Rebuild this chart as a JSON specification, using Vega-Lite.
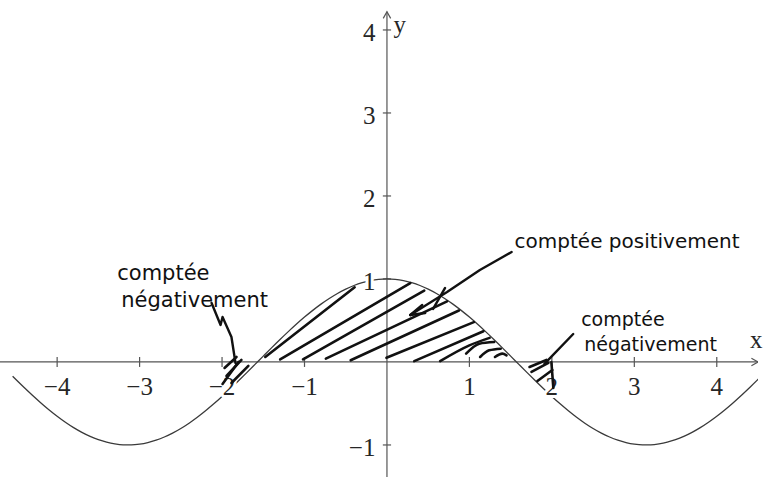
{
  "$schema": "https://vega.github.io/schema/vega-lite/v6.json",
  "width": 763,
  "height": 477,
  "autosize": {"type": "fit", "contains": "padding"},
  "padding": 0,
  "background": "white",
  "config": {"view": {"stroke": null}},
  "datasets": {
    "curve": [
      {"x": -4.54, "y": -0.1716}, {"x": -4.5, "y": -0.2108}, {"x": -4.4, "y": -0.3073}, {"x": -4.3, "y": -0.4008},
      {"x": -4.2, "y": -0.4903}, {"x": -4.1, "y": -0.5748}, {"x": -4.0, "y": -0.6536}, {"x": -3.9, "y": -0.7259},
      {"x": -3.8, "y": -0.791}, {"x": -3.7, "y": -0.8481}, {"x": -3.6, "y": -0.8968}, {"x": -3.5, "y": -0.9365},
      {"x": -3.4, "y": -0.9668}, {"x": -3.3, "y": -0.9875}, {"x": -3.2, "y": -0.9983}, {"x": -3.1, "y": -0.9991},
      {"x": -3.0, "y": -0.99}, {"x": -2.9, "y": -0.971}, {"x": -2.8, "y": -0.9422}, {"x": -2.7, "y": -0.9041},
      {"x": -2.6, "y": -0.8569}, {"x": -2.5, "y": -0.8011}, {"x": -2.4, "y": -0.7374}, {"x": -2.3, "y": -0.6663},
      {"x": -2.2, "y": -0.5885}, {"x": -2.1, "y": -0.5048}, {"x": -2.0, "y": -0.4161}, {"x": -1.9, "y": -0.3233},
      {"x": -1.8, "y": -0.2272}, {"x": -1.7, "y": -0.1288}, {"x": -1.6, "y": -0.0292}, {"x": -1.5, "y": 0.0707},
      {"x": -1.4, "y": 0.17}, {"x": -1.3, "y": 0.2675}, {"x": -1.2, "y": 0.3624}, {"x": -1.1, "y": 0.4536},
      {"x": -1.0, "y": 0.5403}, {"x": -0.9, "y": 0.6216}, {"x": -0.8, "y": 0.6967}, {"x": -0.7, "y": 0.7648},
      {"x": -0.6, "y": 0.8253}, {"x": -0.5, "y": 0.8776}, {"x": -0.4, "y": 0.9211}, {"x": -0.3, "y": 0.9553},
      {"x": -0.2, "y": 0.9801}, {"x": -0.1, "y": 0.995}, {"x": 0.0, "y": 1.0}, {"x": 0.1, "y": 0.995},
      {"x": 0.2, "y": 0.9801}, {"x": 0.3, "y": 0.9553}, {"x": 0.4, "y": 0.9211}, {"x": 0.5, "y": 0.8776},
      {"x": 0.6, "y": 0.8253}, {"x": 0.7, "y": 0.7648}, {"x": 0.8, "y": 0.6967}, {"x": 0.9, "y": 0.6216},
      {"x": 1.0, "y": 0.5403}, {"x": 1.1, "y": 0.4536}, {"x": 1.2, "y": 0.3624}, {"x": 1.3, "y": 0.2675},
      {"x": 1.4, "y": 0.17}, {"x": 1.5, "y": 0.0707}, {"x": 1.6, "y": -0.0292}, {"x": 1.7, "y": -0.1288},
      {"x": 1.8, "y": -0.2272}, {"x": 1.9, "y": -0.3233}, {"x": 2.0, "y": -0.4161}, {"x": 2.1, "y": -0.5048},
      {"x": 2.2, "y": -0.5885}, {"x": 2.3, "y": -0.6663}, {"x": 2.4, "y": -0.7374}, {"x": 2.5, "y": -0.8011},
      {"x": 2.6, "y": -0.8569}, {"x": 2.7, "y": -0.9041}, {"x": 2.8, "y": -0.9422}, {"x": 2.9, "y": -0.971},
      {"x": 3.0, "y": -0.99}, {"x": 3.1, "y": -0.9991}, {"x": 3.2, "y": -0.9983}, {"x": 3.3, "y": -0.9875},
      {"x": 3.4, "y": -0.9668}, {"x": 3.5, "y": -0.9365}, {"x": 3.6, "y": -0.8968}, {"x": 3.7, "y": -0.8481},
      {"x": 3.8, "y": -0.791}, {"x": 3.9, "y": -0.7259}, {"x": 4.0, "y": -0.6536}, {"x": 4.1, "y": -0.5748},
      {"x": 4.2, "y": -0.4903}, {"x": 4.3, "y": -0.4008}, {"x": 4.4, "y": -0.3073}, {"x": 4.5, "y": -0.2108},
      {"x": 4.6, "y": -0.1122}
    ],
    "axes": [
      {"id": "xaxis", "o": 0, "x": -4.693, "y": 0}, {"id": "xaxis", "o": 1, "x": 4.5, "y": 0},
      {"id": "yaxis", "o": 0, "x": 0, "y": -1.386}, {"id": "yaxis", "o": 1, "x": 0, "y": 4.22},
      {"id": "xhead", "o": 0, "x": 4.42, "y": 0.045}, {"id": "xhead", "o": 1, "x": 4.5, "y": 0}, {"id": "xhead", "o": 2, "x": 4.42, "y": -0.045},
      {"id": "yhead", "o": 0, "x": -0.045, "y": 4.14}, {"id": "yhead", "o": 1, "x": 0, "y": 4.22}, {"id": "yhead", "o": 2, "x": 0.045, "y": 4.14}
    ],
    "ticks": [
      {"x": -4, "y": -0.06, "x2": -4, "y2": 0.06}, {"x": -3, "y": -0.06, "x2": -3, "y2": 0.06},
      {"x": -2, "y": -0.06, "x2": -2, "y2": 0.06}, {"x": -1, "y": -0.06, "x2": -1, "y2": 0.06},
      {"x": 1, "y": -0.06, "x2": 1, "y2": 0.06}, {"x": 2, "y": -0.06, "x2": 2, "y2": 0.06},
      {"x": 3, "y": -0.06, "x2": 3, "y2": 0.06}, {"x": 4, "y": -0.06, "x2": 4, "y2": 0.06},
      {"x": -0.05, "y": -1, "x2": 0.05, "y2": -1}, {"x": -0.05, "y": 1, "x2": 0.05, "y2": 1},
      {"x": -0.05, "y": 2, "x2": 0.05, "y2": 2}, {"x": -0.05, "y": 3, "x2": 0.05, "y2": 3},
      {"x": -0.05, "y": 4, "x2": 0.05, "y2": 4}
    ],
    "xlabels": [
      {"x": -4, "y": -0.398, "t": "−4"}, {"x": -3, "y": -0.398, "t": "−3"},
      {"x": -2, "y": -0.398, "t": "−2"}, {"x": -1, "y": -0.398, "t": "−1"},
      {"x": 1, "y": -0.398, "t": "1"}, {"x": 2, "y": -0.398, "t": "2"},
      {"x": 3, "y": -0.398, "t": "3"}, {"x": 4, "y": -0.398, "t": "4"}
    ],
    "ylabels": [
      {"x": -0.14, "y": -1, "t": "−1"}, {"x": -0.14, "y": 1, "t": "1"},
      {"x": -0.14, "y": 2, "t": "2"}, {"x": -0.14, "y": 3, "t": "3"},
      {"x": -0.14, "y": 4, "t": "4"}
    ],
    "names": [
      {"x": 0.078, "y": 3.964, "t": "y"},
      {"x": 4.404, "y": 0.169, "t": "x"}
    ],
    "hatch": [
      {"id": "h1", "o": 0, "x": -1.476, "y": 0.06}, {"id": "h1", "o": 1, "x": -0.392, "y": 0.9},
      {"id": "h2", "o": 0, "x": -1.295, "y": 0.03}, {"id": "h2", "o": 1, "x": 0.283, "y": 0.95},
      {"id": "h3", "o": 0, "x": -1.018, "y": 0.03}, {"id": "h3", "o": 1, "x": 0.452, "y": 0.86},
      {"id": "h4", "o": 0, "x": -0.741, "y": 0.04}, {"id": "h4", "o": 1, "x": 0.729, "y": 0.73},
      {"id": "h5", "o": 0, "x": -0.44, "y": 0.02}, {"id": "h5", "o": 1, "x": 0.873, "y": 0.62},
      {"id": "h6", "o": 0, "x": -0.006, "y": 0.05}, {"id": "h6", "o": 1, "x": 1.054, "y": 0.48},
      {"id": "h7", "o": 0, "x": 0.331, "y": 0.01}, {"id": "h7", "o": 1, "x": 1.17, "y": 0.37},
      {"id": "h8", "o": 0, "x": 0.645, "y": 0.01}, {"id": "h8", "o": 1, "x": 1.0, "y": 0.2}, {"id": "h8", "o": 2, "x": 1.245, "y": 0.29},
      {"id": "h9", "o": 0, "x": 0.96, "y": 0.1}, {"id": "h9", "o": 1, "x": 1.12, "y": 0.22}, {"id": "h9", "o": 2, "x": 1.3, "y": 0.24},
      {"id": "h10", "o": 0, "x": 1.13, "y": 0.06}, {"id": "h10", "o": 1, "x": 1.24, "y": 0.14}, {"id": "h10", "o": 2, "x": 1.38, "y": 0.16},
      {"id": "h11", "o": 0, "x": 1.31, "y": 0.06}, {"id": "h11", "o": 1, "x": 1.4, "y": 0.1}, {"id": "h11", "o": 2, "x": 1.45, "y": 0.08},
      {"id": "l1", "o": 0, "x": -1.994, "y": -0.265}, {"id": "l1", "o": 1, "x": -1.801, "y": 0.0},
      {"id": "l2", "o": 0, "x": -1.946, "y": -0.169}, {"id": "l2", "o": 1, "x": -1.765, "y": 0.024},
      {"id": "l3", "o": 0, "x": -1.97, "y": -0.072}, {"id": "l3", "o": 1, "x": -1.825, "y": 0.06},
      {"id": "l4", "o": 0, "x": -1.886, "y": -0.253}, {"id": "l4", "o": 1, "x": -1.681, "y": -0.048},
      {"id": "r1", "o": 0, "x": 1.729, "y": -0.06}, {"id": "r1", "o": 1, "x": 1.934, "y": 0.024},
      {"id": "r2", "o": 0, "x": 1.753, "y": -0.12}, {"id": "r2", "o": 1, "x": 1.958, "y": -0.012},
      {"id": "r3", "o": 0, "x": 1.825, "y": -0.229}, {"id": "r3", "o": 1, "x": 2.006, "y": -0.096},
      {"id": "r4", "o": 0, "x": 1.994, "y": 0.0}, {"id": "r4", "o": 1, "x": 2.018, "y": -0.313}
    ],
    "arrows": [
      {"id": "a1", "o": 0, "x": 1.512, "y": 1.325}, {"id": "a1", "o": 1, "x": 1.127, "y": 1.108},
      {"id": "a1", "o": 2, "x": 0.729, "y": 0.843}, {"id": "a1", "o": 3, "x": 0.283, "y": 0.566},
      {"id": "a2", "o": 0, "x": 0.705, "y": 0.892}, {"id": "a2", "o": 1, "x": 0.56, "y": 0.639},
      {"id": "a3", "o": 0, "x": 0.283, "y": 0.566}, {"id": "a3", "o": 1, "x": 0.428, "y": 0.687},
      {"id": "a4", "o": 0, "x": 0.283, "y": 0.566}, {"id": "a4", "o": 1, "x": 0.464, "y": 0.59},
      {"id": "b1", "o": 0, "x": -2.127, "y": 0.711}, {"id": "b1", "o": 1, "x": -2.018, "y": 0.446},
      {"id": "b1", "o": 2, "x": -1.994, "y": 0.542}, {"id": "b1", "o": 3, "x": -1.886, "y": 0.301},
      {"id": "b1", "o": 4, "x": -1.837, "y": -0.012},
      {"id": "c1", "o": 0, "x": 2.259, "y": 0.337}, {"id": "c1", "o": 1, "x": 1.91, "y": -0.024}
    ],
    "notes": [
      {"x": 1.548, "y": 1.373, "t": "comptée positivement", "g": "big"},
      {"x": -3.271, "y": 0.988, "t": "comptée", "g": "left"},
      {"x": -3.223, "y": 0.663, "t": "négativement", "g": "left"},
      {"x": 2.355, "y": 0.434, "t": "comptée", "g": "right"},
      {"x": 2.392, "y": 0.133, "t": "négativement", "g": "right"}
    ]
  },
  "encoding": {
    "x": {"field": "x", "type": "quantitative", "scale": {"domain": [-4.693, 4.5], "nice": false, "zero": false}, "axis": null},
    "y": {"field": "y", "type": "quantitative", "scale": {"domain": [-1.386, 4.361], "nice": false, "zero": false}, "axis": null}
  },
  "layer": [
    {
      "data": {"name": "axes"},
      "mark": {"type": "line", "color": "#555555", "strokeWidth": 1.2, "clip": true},
      "encoding": {"detail": {"field": "id"}, "order": {"field": "o", "type": "quantitative"}}
    },
    {
      "data": {"name": "ticks"},
      "mark": {"type": "rule", "color": "#555555", "strokeWidth": 1.2},
      "encoding": {"x2": {"field": "x2"}, "y2": {"field": "y2"}}
    },
    {
      "data": {"name": "curve"},
      "mark": {"type": "line", "color": "#3a3a3a", "strokeWidth": 1.3, "interpolate": "monotone", "clip": true},
      "encoding": {"order": {"field": "x", "type": "quantitative"}}
    },
    {
      "data": {"name": "xlabels"},
      "mark": {"type": "text", "font": "Liberation Serif", "fontSize": 25, "align": "center", "baseline": "alphabetic", "fill": "white", "stroke": "white", "strokeWidth": 6, "strokeJoin": "round"},
      "encoding": {"text": {"field": "t"}}
    },
    {
      "data": {"name": "xlabels"},
      "mark": {"type": "text", "font": "Liberation Serif", "fontSize": 25, "align": "center", "baseline": "alphabetic", "fill": "#262626"},
      "encoding": {"text": {"field": "t"}}
    },
    {
      "data": {"name": "ylabels"},
      "mark": {"type": "text", "font": "Liberation Serif", "fontSize": 25, "align": "right", "baseline": "middle", "dy": 3, "fill": "white", "stroke": "white", "strokeWidth": 6, "strokeJoin": "round"},
      "encoding": {"text": {"field": "t"}}
    },
    {
      "data": {"name": "ylabels"},
      "mark": {"type": "text", "font": "Liberation Serif", "fontSize": 25, "align": "right", "baseline": "middle", "dy": 3, "fill": "#262626"},
      "encoding": {"text": {"field": "t"}}
    },
    {
      "data": {"name": "names"},
      "mark": {"type": "text", "font": "Liberation Serif", "fontSize": 25, "align": "left", "baseline": "alphabetic", "fill": "#262626"},
      "encoding": {"text": {"field": "t"}}
    },
    {
      "data": {"name": "hatch"},
      "mark": {"type": "line", "color": "#111111", "strokeWidth": 2.6, "strokeCap": "round", "interpolate": "monotone"},
      "encoding": {"detail": {"field": "id"}, "order": {"field": "o", "type": "quantitative"}}
    },
    {
      "data": {"name": "arrows"},
      "mark": {"type": "line", "color": "#111111", "strokeWidth": 2.4, "strokeCap": "round", "strokeJoin": "round"},
      "encoding": {"detail": {"field": "id"}, "order": {"field": "o", "type": "quantitative"}}
    },
    {
      "data": {"name": "notes"},
      "transform": [{"filter": "datum.g === 'big'"}],
      "mark": {"type": "text", "font": "DejaVu Sans", "fontSize": 20, "align": "left", "baseline": "alphabetic", "fill": "#111111"},
      "encoding": {"text": {"field": "t"}}
    },
    {
      "data": {"name": "notes"},
      "transform": [{"filter": "datum.g === 'left'"}],
      "mark": {"type": "text", "font": "DejaVu Sans", "fontSize": 21, "align": "left", "baseline": "alphabetic", "fill": "#111111"},
      "encoding": {"text": {"field": "t"}}
    },
    {
      "data": {"name": "notes"},
      "transform": [{"filter": "datum.g === 'right'"}],
      "mark": {"type": "text", "font": "DejaVu Sans", "fontSize": 19, "align": "left", "baseline": "alphabetic", "fill": "#111111"},
      "encoding": {"text": {"field": "t"}}
    }
  ]
}
